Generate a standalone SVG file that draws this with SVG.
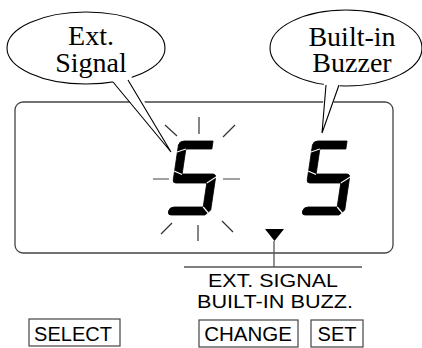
<svg xmlns="http://www.w3.org/2000/svg" width="422" height="348" viewBox="0 0 422 348">
<style>
.bubble{fill:#fff;stroke:#000;stroke-width:1.1}
.tailfill{fill:#fff;stroke:none}
.tail{fill:none;stroke:#000;stroke-width:1.1}
.btxt{font-family:"Liberation Serif","Times New Roman",serif;font-size:28px;fill:#000;text-anchor:middle}
.stxt{font-family:"Liberation Sans",Arial,sans-serif;fill:#000;text-anchor:middle}
.lcd{fill:#fff;stroke:#444;stroke-width:1.3}
.seg{fill:#000;stroke:#000;stroke-width:0.8;stroke-linejoin:round}
.joint{stroke:#fff;stroke-width:1.1;fill:none}
.ray{stroke:#333;stroke-width:1.2}
.rayh{stroke:#777;stroke-width:1.4}
.line{stroke:#555;stroke-width:1.3;fill:none}
.btn{fill:#fff;stroke:#444;stroke-width:1.2}
</style>
<defs>
<g id="five">
<path class="seg" d="M 0,-70 Q 0.5,-74 5,-74 L 34,-74 L 34,-66 L 8,-66 L 8,-41 L 39,-41 Q 42,-41 42,-37 L 42,-5 L 37,0 L 3,0 Q 0,0 0,-3 L 0,-4 Q 0.5,-8 5,-8 L 34,-8 L 34,-32 L 3,-32 Q 0,-32 0,-35 Z"/>
<line class="joint" x1="-0.5" y1="-63" x2="8" y2="-66"/>
<line class="joint" x1="-0.5" y1="-44" x2="8" y2="-40.5"/>
<line class="joint" x1="34" y1="-32" x2="42.5" y2="-38"/>
<line class="joint" x1="34" y1="-8" x2="40" y2="-2"/>
</g>
</defs>

<g id="lcd-panel">
<rect class="lcd" x="15" y="102" width="378" height="151" rx="8" ry="8"/>
</g>

<g id="digit-left">
<use href="#five" transform="translate(168,215) skewX(-8.5)"/>
</g>
<g id="digit-right">
<use href="#five" transform="translate(302,215) skewX(-8.5)"/>
</g>

<g id="flash-rays">
<line class="ray" x1="199" y1="117" x2="199" y2="134"/>
<line class="ray" x1="165" y1="125" x2="177" y2="136"/>
<line class="ray" x1="235" y1="125" x2="223" y2="137"/>
<line class="rayh" x1="153" y1="179" x2="169" y2="179"/>
<line class="rayh" x1="223" y1="179" x2="240" y2="179"/>
<line class="ray" x1="161" y1="234" x2="172" y2="223"/>
<line class="ray" x1="198" y1="225" x2="198" y2="241"/>
<line class="ray" x1="222" y1="221" x2="233" y2="232"/>
</g>

<g id="cursor">
<polygon points="265,229 284,229 274.5,241" fill="#000"/>
</g>

<g id="bubble-ext">
<ellipse class="bubble" cx="86" cy="48" rx="79" ry="36"/>
<polygon class="tailfill" points="110,78 171,152 131,76"/>
<polyline class="tail" points="113,82 171,152 128,80"/>
<text class="btxt" x="91" y="45">Ext.</text>
<text class="btxt" x="91" y="72">Signal</text>
</g>

<g id="bubble-buzzer">
<ellipse class="bubble" cx="346" cy="48" rx="76" ry="38"/>
<polygon class="tailfill" points="324,80 322,133 342,80"/>
<polyline class="tail" points="326,85 322,133 339,85"/>
<text class="btxt" x="352" y="46">Built-in</text>
<text class="btxt" x="352" y="72">Buzzer</text>
</g>

<g id="connectors">
<line class="line" x1="274" y1="241" x2="274" y2="267"/>
<line class="line" x1="184" y1="267" x2="362" y2="267"/>
</g>

<g id="label-options">
<text class="stxt" x="273" y="287" font-size="18" textLength="130" lengthAdjust="spacingAndGlyphs">EXT. SIGNAL</text>
<text class="stxt" x="275" y="308" font-size="18" textLength="156" lengthAdjust="spacingAndGlyphs">BUILT-IN BUZZ.</text>
</g>

<g id="btn-select">
<rect class="btn" x="29" y="319" width="91" height="27"/>
<text class="stxt" x="73" y="341" font-size="20">SELECT</text>
</g>
<g id="btn-change">
<rect class="btn" x="199" y="320" width="99" height="27"/>
<text class="stxt" x="248" y="341" font-size="20.5">CHANGE</text>
</g>
<g id="btn-set">
<rect class="btn" x="311" y="320" width="52" height="27"/>
<text class="stxt" x="337" y="341" font-size="20">SET</text>
</g>
</svg>
